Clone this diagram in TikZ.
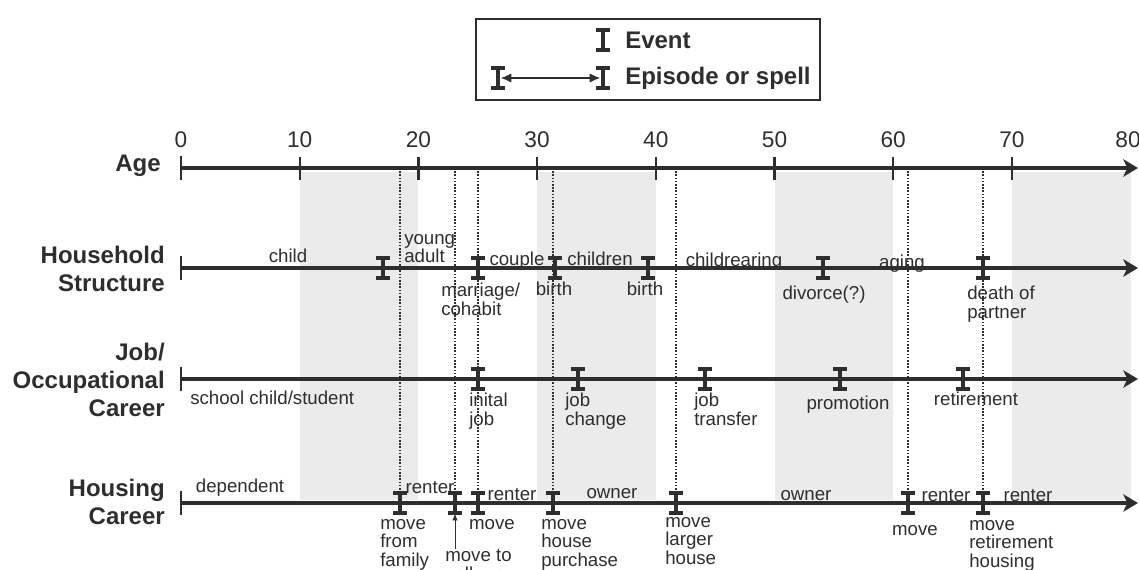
\documentclass[tikz,border=0pt]{standalone}
\usepackage{fontspec}
\setmainfont{Liberation Sans}
\usetikzlibrary{positioning,arrows.meta}
\definecolor{ink}{gray}{0.18}
\definecolor{band}{gray}{0.92}

\tikzset{
  ev/.pic={\draw[ink, line width=3pt] (-7,-10) -- (7,-10) (-7,10) -- (7,10);
           \draw[ink, line width=2.4pt] (0,-10) -- (0,10);}
}

\begin{document}
\begin{tikzpicture}[x=0.75pt, y=-0.75pt,
    timeline/.style={ink, line width=2.4pt, -{Stealth[length=11pt,width=13pt,inset=3pt]}},
    agetick/.style={ink, line width=1.8pt},
    dotline/.style={ink, line width=1.3pt, dash pattern=on 1.2pt off 1.2pt},
    evlabel/.style={ink, font=\fontsize{14}{14}\selectfont, inner sep=0pt, align=left, execute at begin node=\strut},
    rowlabel/.style={ink, font=\fontsize{18}{21}\selectfont\bfseries, align=right, anchor=east, inner sep=0pt},
    agenum/.style={ink, font=\fontsize{17}{17}\selectfont}]

\useasboundingbox (0,0) rectangle (1139,570);

\foreach \a in {10,30,50,70}
  \fill[band] ({181+11.87*\a},172) rectangle ({181+11.87*(\a+10)},500);

\coordinate (A0) at (181,168); \coordinate (A1) at (1138,168);
\coordinate (H0) at (181,268); \coordinate (H1) at (1138,268);
\coordinate (J0) at (181,379); \coordinate (J1) at (1138,379);
\coordinate (S0) at (181,503); \coordinate (S1) at (1138,503);

\path (383,268) coordinate (hLeave) (478,268) coordinate (hMarr)
      (555,268) coordinate (hBirth) (648,268) coordinate (hBirthB)
      (823,268) coordinate (hDiv) (983,268) coordinate (hDeath);
\path (478,379) coordinate (jInit) (578,379) coordinate (jChange)
      (705,379) coordinate (jTrans) (840,379) coordinate (jProm)
      (963,379) coordinate (jRet);
\path (400,503) coordinate (sFam) (455,503) coordinate (sCol)
      (478,503) coordinate (sMove) (553,503) coordinate (sBuy)
      (676,503) coordinate (sLarge) (908,503) coordinate (sMoveB)
      (983,503) coordinate (sRet);

\foreach \e in {sFam,sCol,sMove,sBuy,sLarge,sMoveB,sRet}
  \draw[dotline] (\e |- A0) -- (\e);

\foreach \r in {A,H,J,S} {
  \draw[timeline] (\r0) -- (\r1);
  \draw[agetick] ([yshift=9pt]\r0) -- ([yshift=-9pt]\r0);
}
\foreach \a in {10,20,...,70}
  \draw[agetick] ({181+11.87*\a},157) -- ({181+11.87*\a},180);
\foreach \a in {0,10,...,70}
  \node[agenum] (n\a) at ({181+11.87*\a},140) {\a};
\node[agenum] (n80) at (1128,140) {80};

\foreach \e in {hLeave,hMarr,hBirth,hBirthB,hDiv,hDeath,
                jInit,jChange,jTrans,jProm,jRet,
                sFam,sCol,sMove,sBuy,sLarge,sMoveB,sRet}
  \pic at (\e) {ev};

\node[rowlabel] (rAge) at (161,166) {Age};
\node[rowlabel] (rHouse) at (165,269) {Household\\Structure};
\node[rowlabel] (rJob) at (165,380) {Job/\\Occupational\\Career};
\node[rowlabel] (rHousing) at (165,502) {Housing\\Career};

\node[evlabel, anchor=north] (lChild) at (288,249) {child};
\node[evlabel, anchor=north west] (lYoung) at (404,234) {young\\adult};
\node[evlabel, anchor=north] (lCouple) at (517,252) {couple};
\node[evlabel, anchor=north] (lChildren) at (600,252) {children};
\node[evlabel, anchor=north] (lRear) at (734,253) {childrearing};
\node[evlabel, anchor=north] (lAging) at (902,255) {aging};
\node[evlabel, anchor=north west] (lMarr) at (441,283) {marriage/\\cohabit};
\node[evlabel, anchor=north] (lBirth) at (554,282) {birth};
\node[evlabel, anchor=north] (lBirthB) at (645,282) {birth};
\node[evlabel, anchor=north] (lDiv) at (824,286) {divorce(?)};
\node[evlabel, anchor=north west] (lDeath) at (967,286) {death of\\partner};

\node[evlabel, anchor=north west] (lSchool) at (190,391) {school child/student};
\node[evlabel, anchor=north west] (lInit) at (469,393) {inital\\job};
\node[evlabel, anchor=north west] (lChange) at (565,393) {job\\change};
\node[evlabel, anchor=north west] (lTrans) at (694,393) {job\\transfer};
\node[evlabel, anchor=north] (lProm) at (848,396) {promotion};
\node[evlabel, anchor=north] (lRet) at (976,392) {retirement};

\node[evlabel, anchor=north] (lDep) at (240,479) {dependent};
\node[evlabel, anchor=north] (lRentA) at (430,480) {renter};
\node[evlabel, anchor=north] (lRentB) at (512,487) {renter};
\node[evlabel, anchor=north] (lOwnA) at (612,485) {owner};
\node[evlabel, anchor=north] (lOwnB) at (806,487) {owner};
\node[evlabel, anchor=north] (lRentC) at (946,488) {renter};
\node[evlabel, anchor=north] (lRentD) at (1028,488) {renter};
\node[evlabel, anchor=north west] (lFam) at (380,519) {move\\from\\family};
\node[evlabel, anchor=north west] (lCol) at (445,549) {move to\\college};
\node[evlabel, anchor=north] (lMove) at (492,516) {move};
\node[evlabel, anchor=north west] (lBuy) at (541,519) {move\\house\\purchase};
\node[evlabel, anchor=north west] (lLarge) at (665,517) {move\\larger\\house};
\node[evlabel, anchor=north] (lMoveB) at (915,522) {move};
\node[evlabel, anchor=north west] (lRetH) at (969,520) {move\\retirement\\housing};

\draw[ink, line width=0.6pt, -{Latex[length=5pt,width=4pt]}, shorten >=8pt] (sCol |- lCol.north) -- (sCol);

\node[draw=ink, line width=0.8pt, minimum width=344*0.75pt, minimum height=81*0.75pt] (key) at (648,59.5) {};
\path (603,40) coordinate (kEv) (498,78) coordinate (kA) (603,78) coordinate (kB);
\foreach \e in {kEv,kA,kB}
  \pic at (\e) {ev};
\draw[ink, line width=1.2pt, {Latex[length=8pt,width=7pt]}-{Latex[length=8pt,width=7pt]}, shorten <=2pt, shorten >=2pt] (kA) -- (kB);
\node[rowlabel, anchor=west] (kEvT) at (625,40) {Event};
\node[rowlabel, anchor=west] (kSpT) at (625,78) {Episode or spell};
\end{tikzpicture}
\end{document}
